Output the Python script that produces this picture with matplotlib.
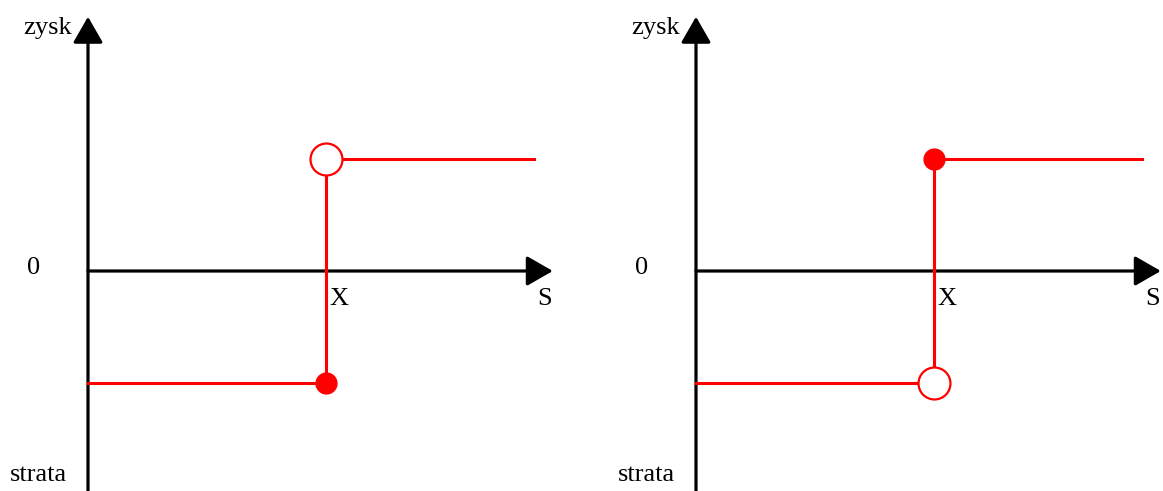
import matplotlib
matplotlib.use('Agg')
import matplotlib.pyplot as plt

plt.rcParams['font.family'] = ['Liberation Serif', 'DejaVu Serif']

# payoff levels and strike position (units: 1 = distance from 0 to payoff level)
strike = 2.125
s_end = 3.98
gain = 1.0
loss = -1.0
# which end of the jump is filled: left panel low point, right panel high point
filled_level = [loss, gain]
open_level = [gain, loss]

axis_labels = ['zysk', 'strata', '0', 'X', 'S']

fig = plt.figure(figsize=(11.63, 4.91), dpi=100)
W, H = 1163, 491
scale = 112.0
origins = [(88, 271), (696, 271)]
red = '#ff0000'
head = '-|>,head_length=0.4,head_width=0.23'

for i, (ox, oy) in enumerate(origins):
    left_px = ox - 88
    right_px = min(left_px + 580, W)
    ax = fig.add_axes([left_px / W, 0, (right_px - left_px) / W, 1])
    ax.set_xlim(-88 / scale, (right_px - ox) / scale)
    ax.set_ylim(-(H - oy) / scale, oy / scale)
    ax.axis('off')

    # axes arrows
    ax.annotate('', xy=(0, 2.27), xytext=(0, -(H - oy) / scale),
                arrowprops=dict(arrowstyle=head, lw=2.3, color='black',
                                mutation_scale=40, shrinkA=0, shrinkB=0), zorder=1)
    ax.annotate('', xy=(4.15, 0), xytext=(0, 0),
                arrowprops=dict(arrowstyle=head, lw=2.3, color='black',
                                mutation_scale=40, shrinkA=0, shrinkB=0), zorder=1)

    # payoff step
    ax.plot([0, strike], [loss, loss], color=red, lw=2.2, zorder=2)
    ax.plot([strike, strike], [loss, gain], color=red, lw=2.2, zorder=2)
    ax.plot([strike, s_end], [gain, gain], color=red, lw=2.2, zorder=2)
    ax.plot([strike], [filled_level[i]], 'o', color=red, ms=15, zorder=3)
    ax.plot([strike], [open_level[i]], 'o', mfc='white', mec=red, mew=1.6,
            ms=23, zorder=3)

    fs = 19
    ax.text(-0.143, 2.17, axis_labels[0], ha='right', va='center', fontsize=fs)
    ax.text(-0.446, -1.82, axis_labels[1], ha='center', va='center', fontsize=fs)
    ax.text(-0.49, 0.03, axis_labels[2], ha='center', va='center', fontsize=fs)
    ax.text(strike + 0.03, -0.25, axis_labels[3], ha='left', va='center', fontsize=fs)
    ax.text(4.08, -0.25, axis_labels[4], ha='center', va='center', fontsize=fs)

fig.savefig('out.png', dpi=100)
